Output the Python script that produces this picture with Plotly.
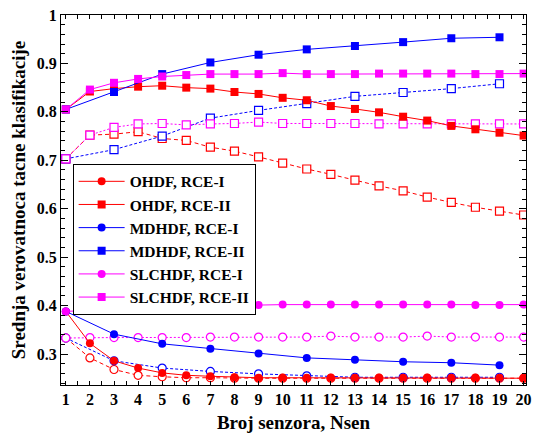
import plotly.graph_objects as go

x_all = list(range(1, 21))
x_odd = [1, 3, 5, 7, 9, 11, 13, 15, 17, 19]

ohdf_rce1 = [0.388, 0.322, 0.286, 0.271, 0.261, 0.256, 0.254, 0.252, 0.251, 0.251,
             0.251, 0.251, 0.251, 0.251, 0.251, 0.251, 0.251, 0.251, 0.251, 0.250]
ohdf_rce2 = [0.805, 0.842, 0.848, 0.852, 0.854, 0.850, 0.848, 0.841, 0.837, 0.829,
             0.824, 0.812, 0.806, 0.799, 0.790, 0.782, 0.771, 0.764, 0.757, 0.751]
mdhdf_rce1 = [0.388, 0.341, 0.321, 0.311, 0.301, 0.292, 0.288, 0.284, 0.282, 0.277]
mdhdf_rce2 = [0.805, 0.841, 0.878, 0.902, 0.918, 0.929, 0.936, 0.944, 0.952, 0.954]
slchdf_rce1 = [0.388, 0.390, 0.393, 0.395, 0.396, 0.396, 0.398, 0.398, 0.401, 0.402,
               0.402, 0.402, 0.402, 0.402, 0.402, 0.402, 0.402, 0.401, 0.401, 0.402]
slchdf_rce2 = [0.805, 0.846, 0.860, 0.868, 0.873, 0.876, 0.878, 0.878, 0.878, 0.880,
               0.878, 0.878, 0.878, 0.879, 0.879, 0.879, 0.879, 0.878, 0.878, 0.879]

# open-marker (dotted) series, not in legend
ohdf_open_c = [0.333, 0.292, 0.268, 0.256, 0.253, 0.251, 0.251, 0.250, 0.250, 0.250,
               0.250, 0.250, 0.250, 0.250, 0.250, 0.250, 0.250, 0.250, 0.250, 0.250]
ohdf_open_s = [0.703, 0.752, 0.754, 0.759, 0.745, 0.741, 0.727, 0.719, 0.707, 0.694,
               0.682, 0.671, 0.659, 0.647, 0.637, 0.624, 0.613, 0.603, 0.595, 0.587]
mdhdf_open_c = [0.333, 0.286, 0.271, 0.264, 0.259, 0.255, 0.252, 0.252, 0.252, 0.252]
mdhdf_open_s = [0.703, 0.722, 0.750, 0.787, 0.803, 0.817, 0.832, 0.840, 0.848, 0.858]
slchdf_open_c = [0.333, 0.334, 0.334, 0.334, 0.334, 0.334, 0.335, 0.335, 0.335, 0.335,
                 0.335, 0.337, 0.335, 0.335, 0.335, 0.337, 0.335, 0.335, 0.335, 0.335]
slchdf_open_s = [0.703, 0.752, 0.768, 0.775, 0.776, 0.773, 0.775, 0.776, 0.779, 0.776,
                 0.776, 0.776, 0.776, 0.775, 0.775, 0.775, 0.775, 0.775, 0.775, 0.775]

RED, BLUE, MAG = "#ff0000", "#0000ff", "#ff00ff"
FONT = "Liberation Serif, Times New Roman, Times, serif"

fig = go.Figure()

def open_trace(x, y, color, symbol, dash):
    fig.add_trace(go.Scatter(
        x=x, y=y, mode="lines+markers", showlegend=False,
        line=dict(color=color, width=1, dash=dash),
        marker=dict(symbol=symbol, size=8, color="white", line=dict(color=color, width=1.2)),
    ))

open_trace(x_all, ohdf_open_c, RED, "circle", "4px,3px")
open_trace(x_odd, mdhdf_open_c, BLUE, "circle", "3px,2px")
open_trace(x_all, slchdf_open_c, MAG, "circle", "2px,2px")
open_trace(x_all, ohdf_open_s, RED, "square", "4px,3px")
open_trace(x_odd, mdhdf_open_s, BLUE, "square", "3px,2px")
open_trace(x_all, slchdf_open_s, MAG, "square", "2px,2px")

def solid_trace(x, y, color, symbol, name):
    fig.add_trace(go.Scatter(
        x=x, y=y, mode="lines+markers", name=name,
        line=dict(color=color, width=1),
        marker=dict(symbol=symbol, size=8, color=color, line=dict(color=color, width=0)),
    ))

solid_trace(x_all, ohdf_rce1, RED, "circle", "OHDF, RCE-I")
solid_trace(x_all, ohdf_rce2, RED, "square", "OHDF, RCE-II")
solid_trace(x_odd, mdhdf_rce1, BLUE, "circle", "MDHDF, RCE-I")
solid_trace(x_odd, mdhdf_rce2, BLUE, "square", "MDHDF, RCE-II")
solid_trace(x_all, slchdf_rce1, MAG, "circle", "SLCHDF, RCE-I")
solid_trace(x_all, slchdf_rce2, MAG, "square", "SLCHDF, RCE-II")

axis_common = dict(
    showline=True, linecolor="black", linewidth=1, mirror="ticks",
    ticks="inside", tickcolor="black", showgrid=False, zeroline=False,
    tickfont=dict(family=FONT, size=16, color="black", weight="bold"),
)

fig.update_xaxes(
    range=[0.8, 20.1], tickmode="linear", tick0=1, dtick=1, ticklen=4,
    minor=dict(dtick=0.5, tick0=0.5, ticks="inside", ticklen=4, tickcolor="black"),
    title=dict(text="Broj senzora, Nsen", standoff=8,
               font=dict(family=FONT, size=19, color="black", weight="bold")),
    **axis_common,
)
fig.update_yaxes(
    range=[0.236, 1.0], tickmode="linear", tick0=0.3, dtick=0.1, ticklen=7,
    minor=dict(dtick=0.02, tick0=0.3, ticks="inside", ticklen=4, tickcolor="black"),
    title=dict(text="Srednja verovatnoca tacne klasifikacije", standoff=6,
               font=dict(family=FONT, size=19, color="black", weight="bold")),
    **axis_common,
)

fig.update_layout(
    width=539, height=437,
    margin=dict(l=61, r=7, t=12, b=51),
    plot_bgcolor="white", paper_bgcolor="white",
    legend=dict(
        x=0.025, y=0.598, xanchor="left", yanchor="top",
        bgcolor="white", bordercolor="black", borderwidth=1,
        font=dict(family=FONT, size=15.5, color="black", weight="bold"),
        itemwidth=46, tracegroupgap=0,
    ),
)

fig.write_html("out.html", config={"displayModeBar": False},
               post_script="document.body.style.margin='0';")
